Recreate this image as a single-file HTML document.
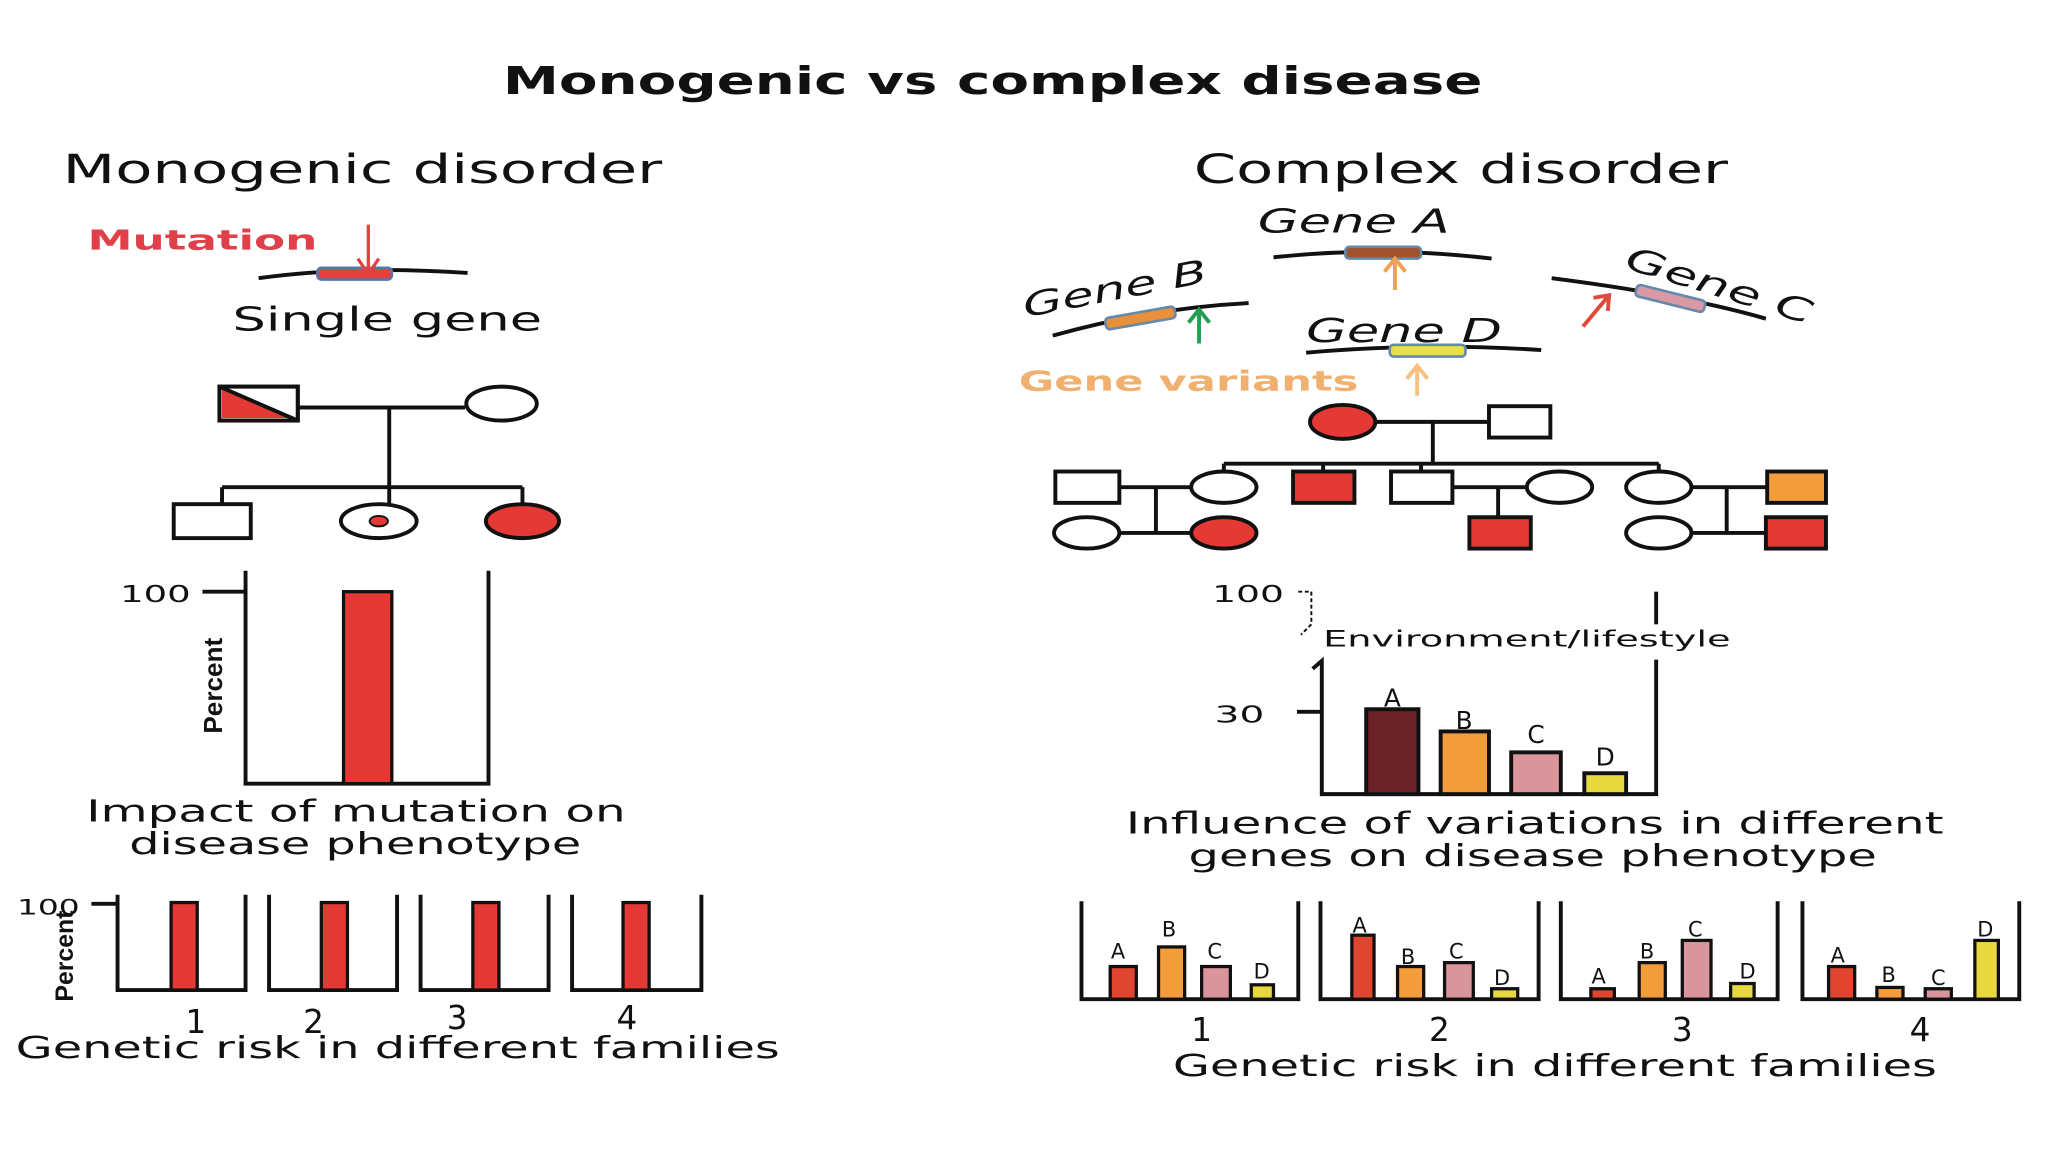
<!DOCTYPE html>
<html><head><meta charset="utf-8">
<style>
html,body{margin:0;padding:0;background:#fff;}
svg{display:block;}
text{font-family:"DejaVu Sans","Liberation Sans",sans-serif;fill:#111;}
</style></head>
<body>
<svg width="2048" height="1152" viewBox="0 0 1568 882" xmlns="http://www.w3.org/2000/svg">
<rect width="1568" height="882" fill="#fff"/>
<text x="385" y="72" font-size="29" font-weight="bold" textLength="750" lengthAdjust="spacingAndGlyphs">Monogenic vs complex disease</text>
<text x="48" y="140" font-size="31" textLength="459" lengthAdjust="spacingAndGlyphs">Monogenic disorder</text>
<text x="914" y="140" font-size="31" textLength="409" lengthAdjust="spacingAndGlyphs">Complex disorder</text>

<text x="67" y="191" font-size="21" font-weight="bold" style="fill:#e0404a" textLength="176" lengthAdjust="spacingAndGlyphs">Mutation</text>
<path d="M198 213 Q270 203 358 209" stroke="#111" stroke-width="3" fill="none"/>
<rect x="243" y="205" width="57" height="9" rx="3" fill="#e34040" stroke="#5577aa" stroke-width="2"/>
<line x1="282" y1="172" x2="282" y2="208" stroke="#e34040" stroke-width="2.5"/>
<path d="M274 198 L282 210 L290 198" stroke="#e34040" stroke-width="2.5" fill="none"/>
<text x="178" y="253" font-size="25" textLength="237" lengthAdjust="spacingAndGlyphs">Single gene</text>

<g stroke="#111" stroke-width="3">
<line x1="228" y1="312" x2="356" y2="312"/>
<line x1="298" y1="312" x2="298" y2="386"/>
<line x1="170" y1="373" x2="400" y2="373"/>
<line x1="170" y1="373" x2="170" y2="386"/>
<line x1="400" y1="373" x2="400" y2="386"/>
<rect x="168" y="296" width="60" height="26" fill="#fff"/>
<polygon points="170,298 170,320 226,320" fill="#e53935" stroke="none"/>
<line x1="168" y1="296" x2="228" y2="322"/>
<rect x="168" y="296" width="60" height="26" fill="none"/>
<ellipse cx="384" cy="309" rx="27" ry="13" fill="#fff"/>
<rect x="133" y="386" width="59" height="26" fill="#fff"/>
<ellipse cx="290" cy="399" rx="29" ry="13" fill="#fff"/>
<ellipse cx="400" cy="399" rx="28" ry="13" fill="#e53935"/>
</g>
<ellipse cx="290" cy="399" rx="7" ry="4" fill="#e53935" stroke="#111" stroke-width="1.5"/>

<g stroke="#111" stroke-width="3" fill="none">
<polyline points="188,437 188,600 374,600 374,437"/>
<line x1="155" y1="453" x2="188" y2="453"/>
</g>
<rect x="263" y="453" width="37" height="147" fill="#e53935" stroke="#111" stroke-width="2.5"/>
<text x="92" y="461" font-size="18" textLength="54" lengthAdjust="spacingAndGlyphs">100</text>
<text transform="translate(170,525) rotate(-90)" font-size="20" font-weight="bold" text-anchor="middle" style="font-family:'Liberation Sans Narrow','Liberation Sans',sans-serif">Percent</text>
<text x="66" y="629" font-size="23" textLength="413" lengthAdjust="spacingAndGlyphs">Impact of mutation on</text>
<text x="99" y="654" font-size="23" textLength="346" lengthAdjust="spacingAndGlyphs">disease phenotype</text>

<g stroke="#111" stroke-width="3" fill="none">
<polyline points="90,685 90,758 188,758 188,685"/>
<polyline points="206,685 206,758 304,758 304,685"/>
<polyline points="322,685 322,758 420,758 420,685"/>
<polyline points="438,685 438,758 537,758 537,685"/>
<line x1="70" y1="692" x2="90" y2="692"/>
</g>
<g fill="#e53935" stroke="#111" stroke-width="2.5">
<rect x="131" y="691" width="20" height="67"/>
<rect x="246" y="691" width="20" height="67"/>
<rect x="362" y="691" width="20" height="67"/>
<rect x="477" y="691" width="20" height="67"/>
</g>
<text x="13" y="700" font-size="16" textLength="48" lengthAdjust="spacingAndGlyphs">100</text>
<text transform="translate(56,732) rotate(-90)" font-size="19" font-weight="bold" text-anchor="middle" style="font-family:'Liberation Sans Narrow','Liberation Sans',sans-serif">Percent</text>
<g font-size="25" text-anchor="middle">
<text x="150" y="791">1</text><text x="240" y="791">2</text><text x="350" y="788">3</text><text x="480" y="788">4</text>
</g>
<text x="12" y="810" font-size="23" textLength="585" lengthAdjust="spacingAndGlyphs">Genetic risk in different families</text>

<g font-size="25" font-style="italic">
<text x="963" y="178" textLength="147" lengthAdjust="spacingAndGlyphs">Gene A</text>
<text x="785" y="243" transform="rotate(-11 785 243)" textLength="143" lengthAdjust="spacingAndGlyphs">Gene B</text>
<text x="1243" y="205" transform="rotate(17 1243 205)" textLength="148" lengthAdjust="spacingAndGlyphs">Gene C</text>
<text x="1000" y="262" textLength="150" lengthAdjust="spacingAndGlyphs">Gene D</text>
</g>
<path d="M975 197 Q1060 188 1142 198" stroke="#111" stroke-width="3" fill="none"/>
<rect x="1030" y="189" width="58" height="9" rx="3" fill="#a0522d" stroke="#6688aa" stroke-width="2"/>
<path d="M806 257 Q880 236 956 232" stroke="#111" stroke-width="3" fill="none"/>
<rect x="846" y="239" width="54" height="9" rx="3" fill="#e8903a" stroke="#6688aa" stroke-width="2" transform="rotate(-10 873 243)"/>
<path d="M1188 213 Q1290 226 1352 244" stroke="#111" stroke-width="3" fill="none"/>
<rect x="1252" y="224" width="54" height="9" rx="3" fill="#d99aa5" stroke="#6688aa" stroke-width="2" transform="rotate(14 1279 228)"/>
<path d="M1000 270 Q1090 262 1180 268" stroke="#111" stroke-width="3" fill="none"/>
<rect x="1064" y="264" width="58" height="9" rx="3" fill="#e8e040" stroke="#6688aa" stroke-width="2"/>
<g fill="none" stroke-width="3">
<g stroke="#f0a050"><line x1="1068" y1="222" x2="1068" y2="198"/><path d="M1060 208 L1068 198 L1076 208"/></g>
<g stroke="#22a050"><line x1="918" y1="263" x2="918" y2="237"/><path d="M910 247 L918 237 L926 247"/></g>
<g stroke="#e04a3a"><line x1="1212" y1="250" x2="1232" y2="226"/><path d="M1220 228 L1232 226 L1231 238"/></g>
<g stroke="#f5c080"><line x1="1085" y1="303" x2="1085" y2="280"/><path d="M1077 290 L1085 280 L1093 290"/></g>
</g>
<text x="780" y="299" font-size="21" font-weight="bold" style="fill:#f0b070" textLength="260" lengthAdjust="spacingAndGlyphs">Gene variants</text>

<g stroke="#111" stroke-width="3">
<line x1="1053" y1="323" x2="1140" y2="323"/>
<line x1="1097" y1="323" x2="1097" y2="355"/>
<line x1="937" y1="355" x2="1270" y2="355"/>
<line x1="937" y1="355" x2="937" y2="361"/>
<line x1="1013" y1="355" x2="1013" y2="361"/>
<line x1="1088" y1="355" x2="1088" y2="361"/>
<line x1="1270" y1="355" x2="1270" y2="361"/>
<line x1="857" y1="373" x2="912" y2="373"/>
<line x1="885" y1="373" x2="885" y2="408"/>
<line x1="857" y1="408" x2="912" y2="408"/>
<line x1="1112" y1="373" x2="1169" y2="373"/>
<line x1="1147" y1="373" x2="1147" y2="396"/>
<line x1="1295" y1="373" x2="1353" y2="373"/>
<line x1="1322" y1="373" x2="1322" y2="408"/>
<line x1="1295" y1="408" x2="1352" y2="408"/>
<ellipse cx="1028" cy="323" rx="25" ry="13" fill="#e53935"/>
<rect x="1140" y="311" width="47" height="24" fill="#fff"/>
<rect x="808" y="361" width="49" height="24" fill="#fff"/>
<ellipse cx="937" cy="373" rx="25" ry="12" fill="#fff"/>
<rect x="990" y="361" width="47" height="24" fill="#e53935"/>
<rect x="1065" y="361" width="47" height="24" fill="#fff"/>
<ellipse cx="1194" cy="373" rx="25" ry="12" fill="#fff"/>
<ellipse cx="1270" cy="373" rx="25" ry="12" fill="#fff"/>
<rect x="1353" y="361" width="45" height="24" fill="#f39c3c"/>
<ellipse cx="832" cy="408" rx="25" ry="12" fill="#fff"/>
<ellipse cx="937" cy="408" rx="25" ry="12" fill="#e53935"/>
<rect x="1125" y="396" width="47" height="24" fill="#e53935"/>
<ellipse cx="1270" cy="408" rx="25" ry="12" fill="#fff"/>
<rect x="1352" y="396" width="46" height="24" fill="#e53935"/>
</g>

<text x="928" y="461" font-size="18" textLength="55" lengthAdjust="spacingAndGlyphs">100</text>
<path d="M994 453 L1004 453 L1004 478 L996 486" stroke="#111" stroke-width="1.5" stroke-dasharray="3,2" fill="none"/>
<text x="1013" y="495" font-size="17" textLength="312" lengthAdjust="spacingAndGlyphs">Environment/lifestyle</text>
<g stroke="#111" stroke-width="3" fill="none">
<polyline points="1005,512 1012,506 1012,608 1268,608 1268,505"/>
<line x1="1268" y1="453" x2="1268" y2="478"/>
<line x1="993" y1="545" x2="1012" y2="545"/>
</g>
<text x="930" y="553" font-size="18" textLength="38" lengthAdjust="spacingAndGlyphs">30</text>
<g stroke="#111" stroke-width="3">
<rect x="1046" y="543" width="40" height="65" fill="#6b2226"/>
<rect x="1103" y="560" width="37" height="48" fill="#f39c3c"/>
<rect x="1157" y="576" width="38" height="32" fill="#d9959b"/>
<rect x="1213" y="592" width="32" height="16" fill="#e8d840"/>
</g>
<g font-size="19" text-anchor="middle">
<text x="1066" y="541">A</text><text x="1121" y="558">B</text><text x="1176" y="569">C</text><text x="1229" y="586">D</text>
</g>
<text x="862" y="638" font-size="23" textLength="626" lengthAdjust="spacingAndGlyphs">Influence of variations in different</text>
<text x="910" y="663" font-size="23" textLength="527" lengthAdjust="spacingAndGlyphs">genes on disease phenotype</text>

<g stroke="#111" stroke-width="3" fill="none">
<polyline points="828,690 828,765 994,765 994,690"/>
<polyline points="1011,690 1011,765 1178,765 1178,690"/>
<polyline points="1195,690 1195,765 1361,765 1361,690"/>
<polyline points="1380,690 1380,765 1546,765 1546,690"/>
</g>
<g stroke="#111" stroke-width="2.5">
<rect x="850" y="740" width="20" height="25" fill="#e04530"/>
<rect x="887" y="725" width="20" height="40" fill="#f39c3c"/>
<rect x="920" y="740" width="22" height="25" fill="#d9959b"/>
<rect x="958" y="754" width="17" height="11" fill="#e8d840"/>
<rect x="1035" y="716" width="17" height="49" fill="#e04530"/>
<rect x="1070" y="740" width="20" height="25" fill="#f39c3c"/>
<rect x="1106" y="737" width="22" height="28" fill="#d9959b"/>
<rect x="1142" y="757" width="20" height="8" fill="#e8d840"/>
<rect x="1218" y="757" width="18" height="8" fill="#e04530"/>
<rect x="1255" y="737" width="20" height="28" fill="#f39c3c"/>
<rect x="1288" y="720" width="22" height="45" fill="#d9959b"/>
<rect x="1325" y="753" width="18" height="12" fill="#e8d840"/>
<rect x="1400" y="740" width="20" height="25" fill="#e04530"/>
<rect x="1437" y="756" width="20" height="9" fill="#f39c3c"/>
<rect x="1474" y="757" width="20" height="8" fill="#d9959b"/>
<rect x="1512" y="720" width="18" height="45" fill="#e8d840"/>
</g>
<g font-size="16" text-anchor="middle">
<text x="856" y="734">A</text><text x="895" y="717">B</text><text x="930" y="734">C</text><text x="966" y="749">D</text>
<text x="1041" y="714">A</text><text x="1078" y="738">B</text><text x="1115" y="734">C</text><text x="1150" y="754">D</text>
<text x="1224" y="753">A</text><text x="1261" y="734">B</text><text x="1298" y="717">C</text><text x="1338" y="749">D</text>
<text x="1407" y="737">A</text><text x="1446" y="752">B</text><text x="1484" y="754">C</text><text x="1520" y="717">D</text>
</g>
<g font-size="25" text-anchor="middle">
<text x="920" y="797">1</text><text x="1102" y="797">2</text><text x="1288" y="797">3</text><text x="1470" y="797">4</text>
</g>
<text x="898" y="824" font-size="23" textLength="585" lengthAdjust="spacingAndGlyphs">Genetic risk in different families</text>
</svg>
</body></html>
